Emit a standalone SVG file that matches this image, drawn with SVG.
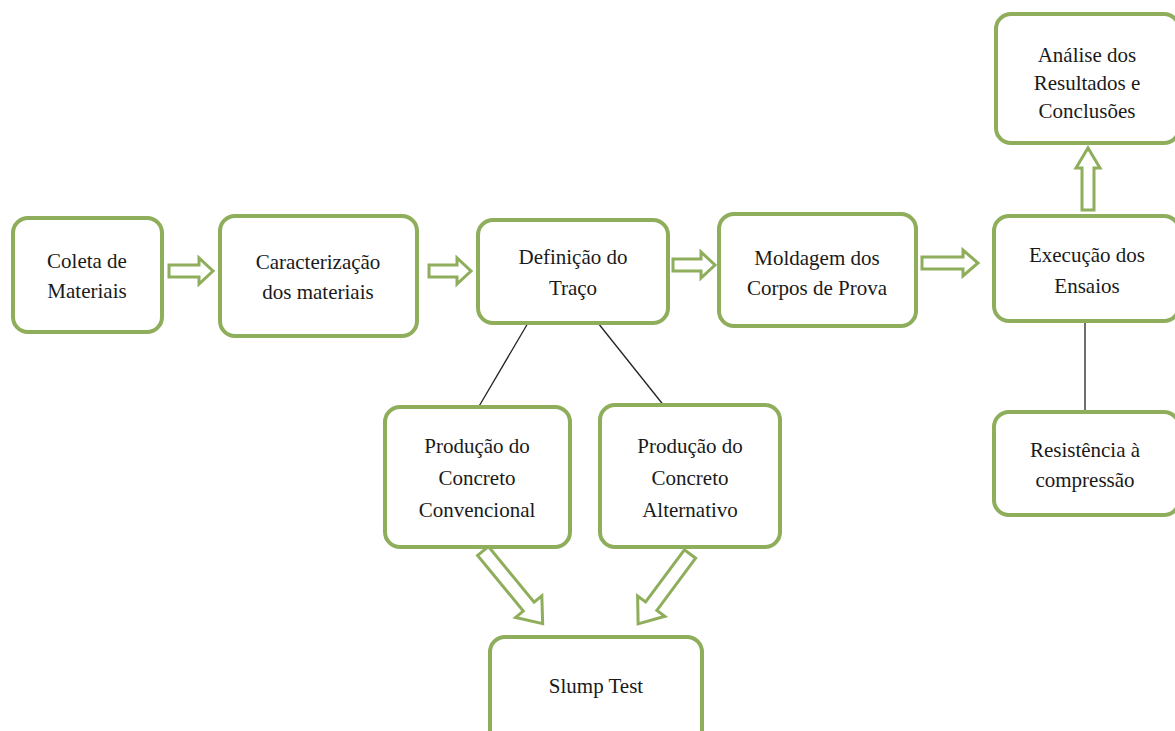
<svg xmlns="http://www.w3.org/2000/svg" width="1175" height="731" viewBox="0 0 1175 731">
<style>
.box{fill:#fff;stroke:#8fae5b;stroke-width:4}
.arr{fill:#fff;stroke:#8fae5b;stroke-width:3;stroke-linejoin:miter}
.ln{stroke:#222;stroke-width:1.3;fill:none}
.t{font-size:21px;fill:#1a1a1a;text-anchor:middle}
</style>
<rect width="1175" height="731" fill="#fff"/>
<g id="connectors">
<polygon class="arr" points="169,265 199,265 199,258 213,271 199,284 199,277 169,277"/>
<polygon class="arr" points="429,265 457,265 457,258 471,271 457,284 457,277 429,277"/>
<polygon class="arr" points="673,259 701,259 701,252 715,265 701,278 701,271 673,271"/>
<polygon class="arr" points="922,257 963,257 963,250 978,263 963,276 963,269 922,269"/>
<polygon class="arr" points="1082,210 1082,168 1076,168 1088,148 1100,168 1094,168 1094,210"/>
<line class="ln" x1="528" y1="323" x2="478" y2="408"/>
<line class="ln" x1="598" y1="323" x2="665" y2="407"/>
<line class="ln" x1="1085" y1="322" x2="1085" y2="411"/>
<polygon class="arr" transform="translate(483,551) rotate(50.6)" points="0,-7 72,-7 72,-17 94,0 72,17 72,7 0,7"/>
<polygon class="arr" transform="translate(690,554) rotate(126.6)" points="0,-7 65,-7 65,-17 87,0 65,17 65,7 0,7"/>
</g>
<g font-family="Liberation Serif, Times New Roman, serif" class="t">
<g id="n1"><rect class="box" x="13" y="218" width="149" height="114" rx="15"/><text x="87" y="268">Coleta de</text><text x="87" y="298">Materiais</text></g>
<g id="n2"><rect class="box" x="220" y="216" width="197" height="120" rx="15"/><text x="318" y="269">Caracterização</text><text x="318" y="299">dos materiais</text></g>
<g id="n3"><rect class="box" x="478" y="220" width="190" height="103" rx="15"/><text x="573" y="264">Definição do</text><text x="573" y="295">Traço</text></g>
<g id="n4"><rect class="box" x="719" y="214" width="197" height="112" rx="15"/><text x="817" y="265">Moldagem dos</text><text x="817" y="295">Corpos de Prova</text></g>
<g id="n5"><rect class="box" x="994" y="216" width="185" height="105" rx="15"/><text x="1087" y="262">Execução dos</text><text x="1087" y="293">Ensaios</text></g>
<g id="n6"><rect class="box" x="996" y="14" width="183" height="129" rx="15"/><text x="1087" y="62">Análise dos</text><text x="1087" y="90">Resultados e</text><text x="1087" y="118">Conclusões</text></g>
<g id="n7"><rect class="box" x="994" y="412" width="185" height="103" rx="15"/><text x="1085" y="457">Resistência à</text><text x="1085" y="487">compressão</text></g>
<g id="n8"><rect class="box" x="385" y="407" width="185" height="140" rx="15"/><text x="477" y="453">Produção do</text><text x="477" y="485">Concreto</text><text x="477" y="517">Convencional</text></g>
<g id="n9"><rect class="box" x="600" y="405" width="180" height="142" rx="15"/><text x="690" y="453">Produção do</text><text x="690" y="485">Concreto</text><text x="690" y="517">Alternativo</text></g>
<g id="n10"><rect class="box" x="490" y="637" width="212" height="110" rx="15"/><text x="596" y="693">Slump Test</text></g>
</g>
</svg>
